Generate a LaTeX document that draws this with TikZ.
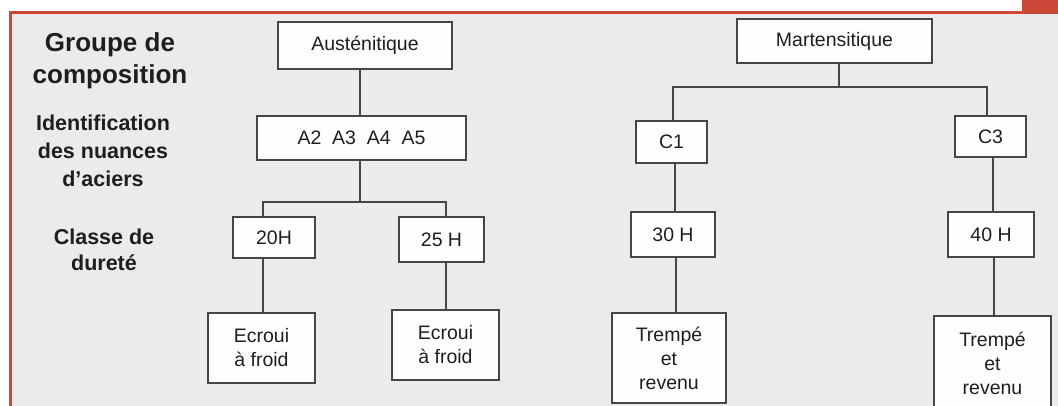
\documentclass[tikz,border=0pt]{standalone}
\usepackage{fontspec}
\setmainfont{Liberation Sans}
\definecolor{redc}{RGB}{206,72,58}
\definecolor{bgc}{RGB}{235,235,235}
\definecolor{boxc}{RGB}{70,70,70}
\definecolor{txtc}{RGB}{30,30,30}
\begin{document}
\begin{tikzpicture}[x=1pt,y=-1pt,
  box/.style={draw=boxc, line width=1.1pt, fill=white!97!bgc, inner sep=0pt, align=center,
    text=txtc, font=\fontsize{19.5}{24}\selectfont},
  conn/.style={draw=boxc, line width=1.1pt},
  lab/.style={align=center, text=txtc, inner sep=0pt}]
\useasboundingbox (0,0) rectangle (1058,406);
% background and frame
\fill[bgc] (10,13) rectangle (1058,406);
\fill[redc] (1022,0) rectangle (1058,13);
\draw[redc, line width=3pt] (10,406) -- (10,13) -- (1058,13);
% left labels
\node[lab, font=\bfseries\fontsize{26}{32}\selectfont] (grp) at (110,61) {Groupe de\\composition};
\node[lab, font=\bfseries\fontsize{21.5}{28}\selectfont] (idn) at (103,151) {Identification\\des nuances\\d’aciers};
\node[lab, font=\bfseries\fontsize{21.5}{26}\selectfont] (cls) at (104,250) {Classe de\\dureté};
% left tree
\node[box, minimum width=174, minimum height=47] (aus) at (365,45.5) {Austénitique};
\node[box, minimum width=209, minimum height=44] (aa) at (361.5,138) {A2~~A3~~A4~~A5};
\node[box, minimum width=82, minimum height=41] (h20) at (274,237.5) {20H};
\node[box, minimum width=85, minimum height=45] (h25) at (441.5,239.5) {25 H};
\node[box, minimum width=107, minimum height=70] (ec1) at (261.5,348) {Ecroui\\à froid};
\node[box, minimum width=107, minimum height=70] (ec2) at (445.5,345) {Ecroui\\à froid};
% right tree
\node[box, minimum width=195, minimum height=44] (mar) at (834.5,41) {Martensitique};
\node[box, minimum width=71, minimum height=42] (c1) at (671.5,142) {C1};
\node[box, minimum width=71, minimum height=41] (c3) at (990.5,136.5) {C3};
\node[box, minimum width=84, minimum height=45] (h30) at (673,234.5) {30 H};
\node[box, minimum width=114, minimum height=90] (tr1) at (669,358) {Trempé\\et\\revenu};
\node[box, minimum width=86, minimum height=45] (h40) at (991,234.5) {40 H};
\node[box, minimum width=117, minimum height=94] (tr2) at (992.5,363) {Trempé\\et\\revenu};
% junction coordinates
\coordinate (xa) at (360,0);
\coordinate (ja) at (360,202);
\coordinate (jl) at (263,202);
\coordinate (jr) at (446,202);
\coordinate (jm) at (839,87);
\coordinate (jc1) at (673,87);
\coordinate (jc3) at (987,87);
\coordinate (x30) at (675,0);
\coordinate (x30b) at (676,0);
\coordinate (x40) at (993,0);
\coordinate (x40b) at (994,0);
% connectors
\draw[conn] (aus.south -| xa) -- (aa.north -| xa);
\draw[conn] (aa.south -| ja) -- (ja);
\draw[conn] (h20.north -| jl) -- (jl) -- (jr) -- (h25.north -| jr);
\draw[conn] (h20.south -| jl) -- (ec1.north -| jl);
\draw[conn] (h25.south -| jr) -- (ec2.north -| jr);
\draw[conn] (mar.south -| jm) -- (jm);
\draw[conn] (c1.north -| jc1) -- (jc1) -- (jc3) -- (c3.north -| jc3);
\draw[conn] (c1.south -| x30) -- (h30.north -| x30);
\draw[conn] (h30.south -| x30b) -- (tr1.north -| x30b);
\draw[conn] (c3.south -| x40) -- (h40.north -| x40);
\draw[conn] (h40.south -| x40b) -- (tr2.north -| x40b);
\end{tikzpicture}
\end{document}
